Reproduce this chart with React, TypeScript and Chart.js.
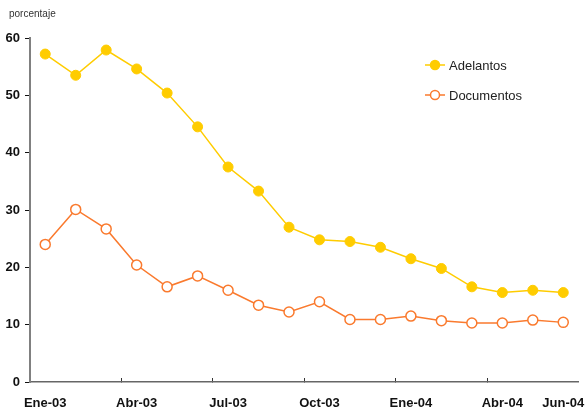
import React, { useEffect, useRef } from "react";
import { Chart, registerables } from "chart.js";

Chart.register(...registerables);

const months = [
  "Ene-03", "Feb-03", "Mar-03", "Abr-03", "May-03", "Jun-03", "Jul-03", "Ago-03", "Sep-03",
  "Oct-03", "Nov-03", "Dic-03", "Ene-04", "Feb-04", "Mar-04", "Abr-04", "May-04", "Jun-04",
];
const adelantos = [57.2, 53.5, 57.9, 54.6, 50.4, 44.5, 37.5, 33.3, 27.0, 24.8, 24.5, 23.5, 21.5, 19.8, 16.6, 15.6, 16.0, 15.6];
const documentos = [24.0, 30.1, 26.7, 20.4, 16.6, 18.5, 16.0, 13.4, 12.2, 14.0, 10.9, 10.9, 11.5, 10.7, 10.3, 10.3, 10.8, 10.4];
const shownLabels = ["Ene-03", "Abr-03", "Jul-03", "Oct-03", "Ene-04", "Abr-04", "Jun-04"];
const yUnit = "porcentaje";

const GOLD = "#FFCC00";
const ORANGE = "#FA7A2E";

const extras = {
  id: "extras",
  afterDraw(chart: any) {
    const ctx = chart.ctx;
    ctx.save();
    ctx.fillStyle = "#333";
    ctx.font = "10px 'Liberation Sans', Arial, sans-serif";
    ctx.textBaseline = "middle";
    ctx.textAlign = "left";
    ctx.fillText(yUnit, 9, 14);
    // legend
    chart.data.datasets.forEach((ds: any, i: number) => {
      const y = 65 + i * 30;
      ctx.strokeStyle = ds.borderColor;
      ctx.lineWidth = 1.5;
      ctx.beginPath();
      ctx.moveTo(425, y);
      ctx.lineTo(445, y);
      ctx.stroke();
      ctx.beginPath();
      ctx.arc(435, y, 4.5, 0, Math.PI * 2);
      ctx.fillStyle = ds.pointBackgroundColor;
      ctx.fill();
      ctx.strokeStyle = ds.pointBorderColor;
      ctx.stroke();
      ctx.fillStyle = "#222";
      ctx.font = "13px 'Liberation Sans', Arial, sans-serif";
      ctx.fillText(ds.label, 449, y + 1);
    });
    ctx.restore();
  },
};

export default function App() {
  const ref = useRef<HTMLCanvasElement | null>(null);
  useEffect(() => {
    if (!ref.current) return;
    const chart = new Chart(ref.current, {
      type: "line",
      data: {
        labels: months,
        datasets: [
          {
            label: "Adelantos",
            data: adelantos,
            borderColor: GOLD,
            borderWidth: 1.5,
            pointBackgroundColor: GOLD,
            pointBorderColor: GOLD,
            pointRadius: 5,
            pointBorderWidth: 1,
          },
          {
            label: "Documentos",
            data: documentos,
            borderColor: ORANGE,
            borderWidth: 1.5,
            pointBackgroundColor: "#ffffff",
            pointBorderColor: ORANGE,
            pointRadius: 5,
            pointBorderWidth: 1.5,
          },
        ],
      },
      options: {
        animation: false,
        responsive: false,
        layout: { padding: { top: 38, right: 6, left: 0, bottom: 0 } },
        plugins: { legend: { display: false }, tooltip: { enabled: false } },
        scales: {
          x: {
            type: "category",
            offset: true,
            afterFit: (s: any) => { s.height = 28; s.paddingLeft = 0; s.paddingRight = 0; },
            grid: {
              offset: true,
              drawOnChartArea: false,
              tickLength: -4,
              tickColor: (c: any) => (c.index % 3 === 0 ? "#333" : "rgba(0,0,0,0)"),
              tickWidth: 1,
            },
            border: { color: "#666", width: 1.5 },
            ticks: {
              autoSkip: false,
              maxRotation: 0,
              padding: 18,
              color: "#111",
              font: { family: "'Liberation Sans', Arial, sans-serif", size: 13, weight: "bold" },
              callback: function (this: any, v: any, i: number) {
                const l = months[i];
                return shownLabels.includes(l) ? l : "";
              },
            },
          },
          y: {
            min: 0,
            max: 60,
            afterFit: (s: any) => { s.width = 30; },
            grid: { drawOnChartArea: false, tickLength: 5, tickColor: "#111", tickWidth: 1 },
            border: { color: "#808080", width: 2 },
            ticks: {
              stepSize: 10,
              padding: 5,
              color: "#111",
              font: { family: "'Liberation Sans', Arial, sans-serif", size: 13, weight: "bold" },
            },
          },
        },
      },
      plugins: [extras],
    } as any);
    return () => chart.destroy();
  }, []);
  return (
    <div style={{ position: "fixed", left: 0, top: 0, width: 585, height: 410, background: "#fff" }}>
      <canvas ref={ref} width={585} height={410} style={{ width: 585, height: 410, display: "block" }} />
    </div>
  );
}
